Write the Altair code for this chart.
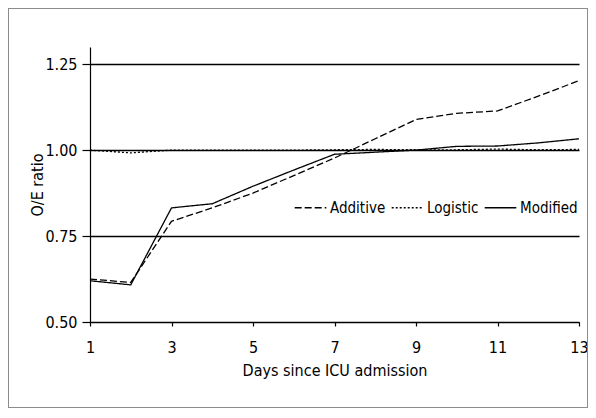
import altair as alt
import pandas as pd

days = list(range(1, 14))
additive = [0.625, 0.615, 0.793, 0.832, 0.875, 0.926, 0.977, 1.033, 1.089, 1.107, 1.114, 1.157, 1.202]
logistic = [1.000, 0.992, 1.000, 1.000, 1.000, 1.000, 1.001, 1.002, 1.001, 1.001, 1.003, 1.001, 1.002]
modified = [0.620, 0.608, 0.832, 0.844, 0.895, 0.942, 0.988, 0.994, 1.000, 1.011, 1.012, 1.021, 1.033]
series_names = ["Additive", "Logistic", "Modified"]
x_ticks = [1, 3, 5, 7, 9, 11, 13]
y_ticks = [0.50, 0.75, 1.00, 1.25]

rows = []
for name, vals in zip(series_names, [additive, logistic, modified]):
    for d, v in zip(days, vals):
        rows.append({"day": d, "ratio": v, "model": name})
df = pd.DataFrame(rows)

FONT = "DejaVu Sans Condensed"
W, H = 489, 275
PL, PT, PR, PB = 82, 39, 9, 86

lines = alt.Chart(df).mark_line(color="black", strokeWidth=1.3).encode(
    x=alt.X("day:Q", scale=alt.Scale(domain=[1, 13], nice=False),
            axis=alt.Axis(values=x_ticks, title="Days since ICU admission", grid=False,
                          tickSize=4, labelPadding=13, titlePadding=7, format="d",
                          labelFlush=False)),
    y=alt.Y("ratio:Q", scale=alt.Scale(domain=[0.5, 1.3], nice=False, zero=False),
            axis=alt.Axis(values=y_ticks, title="O/E ratio", grid=True, format=".2f",
                          tickSize=8, labelPadding=5, titlePadding=-1)),
    strokeDash=alt.StrokeDash("model:N",
                              scale=alt.Scale(domain=series_names, range=[[7, 3], [2, 2], [1, 0]]),
                              legend=alt.Legend(title=None, orient="none", legendX=204, legendY=144,
                                                direction="horizontal", symbolType="stroke",
                                                symbolSize=1000, symbolStrokeWidth=1.3,
                                                symbolStrokeColor="black", labelFontSize=15,
                                                labelFont=FONT, labelColor="black", padding=0,
                                                columnPadding=3, labelOffset=3)),
)

frame = alt.Chart(df).mark_rect(filled=False, stroke="#8c8c8c", strokeWidth=1).encode(
    x=alt.value(-PL + 0.5), x2=alt.value(W + PR - 0.5),
    y=alt.value(-PT + 0.5), y2=alt.value(H + PB - 0.5),
)

chart = alt.layer(frame, lines).properties(
    width=W, height=H,
    autosize=alt.AutoSizeParams(type="none"),
    padding={"left": PL, "top": PT, "right": PR, "bottom": PB},
).configure_view(stroke=None).configure_axis(
    domainColor="black", tickColor="black", gridColor="black", gridWidth=1.3,
    domainWidth=1.2, tickWidth=1.2,
    labelFont=FONT, titleFont=FONT, labelFontSize=16, titleFontSize=16,
    labelColor="black", titleColor="black", titleFontWeight="normal",
)

chart.save("out.html", embed_options={"renderer": "svg", "actions": False})
